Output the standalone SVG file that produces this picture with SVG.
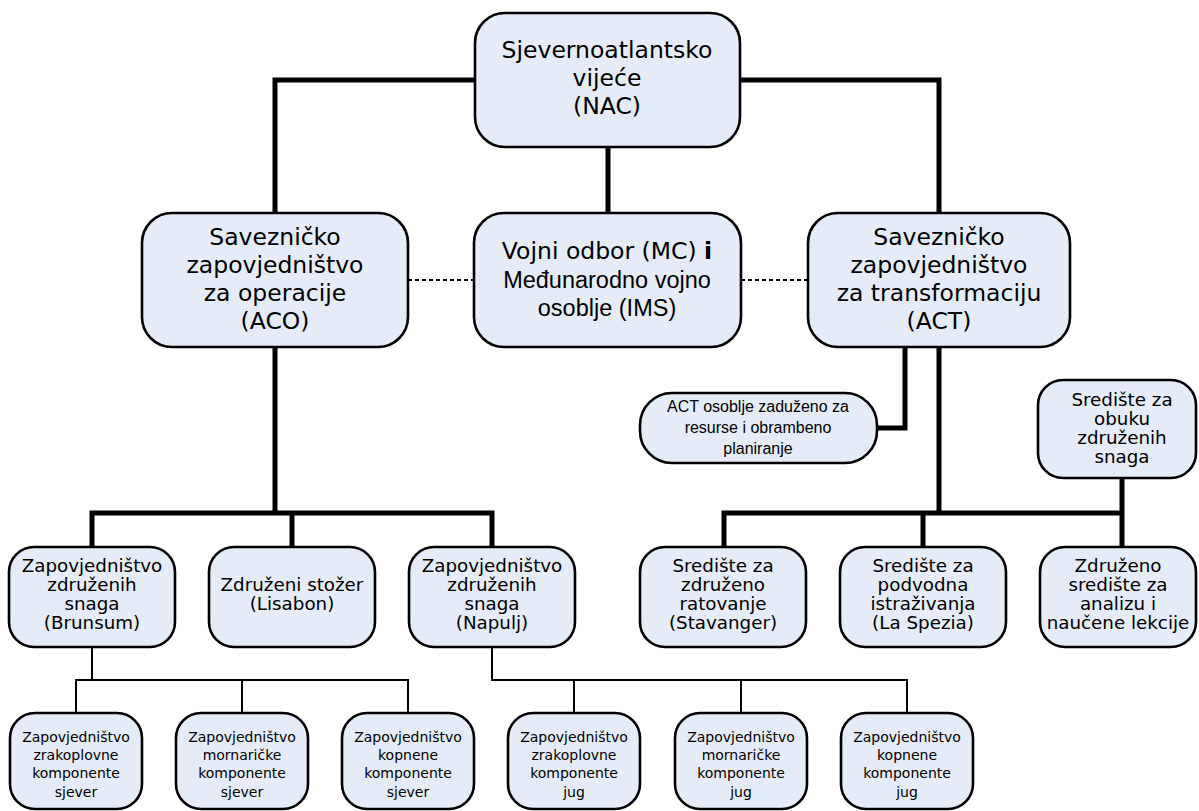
<svg xmlns="http://www.w3.org/2000/svg" width="1199" height="811" viewBox="0 0 1199 811">
<style>
.box{fill:#e6ecf7;stroke:#000;stroke-width:2.6}
.thick{fill:none;stroke:#000;stroke-width:5;stroke-linejoin:miter}
.thin{fill:none;stroke:#000;stroke-width:2}
.dash{fill:none;stroke:#000;stroke-width:2;stroke-dasharray:4 3}
text{font-family:"DejaVu Sans",Verdana,sans-serif;text-anchor:middle;fill:#000}
.t1{font-size:23.5px}
.t2{font-size:18.3px}
.t3{font-size:14px}
.a{font-family:"Liberation Sans",Arial,sans-serif}
.s{font-size:16px}
</style>
<rect width="1199" height="811" fill="#fff"/>
<g id="connectors">
<path class="thick" d="M475 80H275V213M740 80H939V213M608 147V213"/>
<path class="dash" d="M408 280H474M741 280H808"/>
<path class="thick" d="M275 347V513M92 547V513H492V547M292 513V547"/>
<path class="thick" d="M939 347V513M724 547V513H1122M923 513V547M1122 478V547"/>
<path class="thick" d="M905 347V428H877"/>
<path class="thin" d="M92 647V680M76 713V680H408V713M242 680V713"/>
<path class="thin" d="M492 647V680H907V713M574 680V713M741 680V713"/>
</g>
<g id="nac"><rect class="box" x="475" y="13" width="265" height="134" rx="30"/>
<text class="t1" x="607" y="58">Sjevernoatlantsko</text><text class="t1" x="607" y="86">vijeće</text><text class="t1" x="607" y="114">(NAC)</text></g>
<g id="aco"><rect class="box" x="142" y="213" width="266" height="134" rx="30"/>
<text class="t1" x="275" y="245">Savezničko</text><text class="t1" x="275" y="273">zapovjedništvo</text><text class="t1" x="275" y="301">za operacije</text><text class="t1" x="275" y="329">(ACO)</text></g>
<g id="mc"><rect class="box" x="474" y="213" width="267" height="134" rx="30"/>
<text class="t1" x="607" y="259">Vojni odbor (MC) <tspan font-weight="bold">i</tspan></text><text class="t1 a" x="607" y="288">Međunarodno vojno</text><text class="t1 a" x="607" y="316">osoblje (IMS)</text></g>
<g id="act"><rect class="box" x="808" y="213" width="262" height="134" rx="30"/>
<text class="t1" x="939" y="245">Savezničko</text><text class="t1" x="939" y="273">zapovjedništvo</text><text class="t1" x="939" y="301">za transformaciju</text><text class="t1" x="939" y="329">(ACT)</text></g>
<g id="act-staff"><rect class="box" x="640" y="393" width="237" height="70" rx="32"/>
<text class="a s" x="758" y="412">ACT osoblje zaduženo za</text><text class="a s" x="758" y="433">resurse i obrambeno</text><text class="a s" x="758" y="454">planiranje</text></g>
<g id="obuka"><rect class="box" x="1038" y="380" width="158" height="98" rx="25"/>
<text class="t2" x="1122" y="406">Središte za</text><text class="t2" x="1122" y="425">obuku</text><text class="t2" x="1122" y="444">združenih</text><text class="t2" x="1122" y="463">snaga</text></g>
<g id="brunsum"><rect class="box" x="9" y="547" width="166" height="100" rx="25"/>
<text class="t2" x="92" y="572">Zapovjedništvo</text><text class="t2" x="92" y="591">združenih</text><text class="t2" x="92" y="610">snaga</text><text class="t2" x="92" y="629">(Brunsum)</text></g>
<g id="lisabon"><rect class="box" x="209" y="547" width="166" height="100" rx="25"/>
<text class="t2" x="292" y="591">Združeni stožer</text><text class="t2" x="292" y="610">(Lisabon)</text></g>
<g id="napulj"><rect class="box" x="409" y="547" width="166" height="100" rx="25"/>
<text class="t2" x="492" y="572">Zapovjedništvo</text><text class="t2" x="492" y="591">združenih</text><text class="t2" x="492" y="610">snaga</text><text class="t2" x="492" y="629">(Napulj)</text></g>
<g id="stavanger"><rect class="box" x="640" y="547" width="166" height="100" rx="25"/>
<text class="t2" x="723" y="572">Središte za</text><text class="t2" x="723" y="591">združeno</text><text class="t2" x="723" y="610">ratovanje</text><text class="t2" x="723" y="629">(Stavanger)</text></g>
<g id="spezia"><rect class="box" x="840" y="547" width="166" height="100" rx="25"/>
<text class="t2" x="923" y="572">Središte za</text><text class="t2" x="923" y="591">podvodna</text><text class="t2" x="923" y="610">istraživanja</text><text class="t2" x="923" y="629">(La Spezia)</text></g>
<g id="analiza"><rect class="box" x="1040" y="547" width="156" height="100" rx="25"/>
<text class="t2" x="1118" y="572">Združeno</text><text class="t2" x="1118" y="591">središte za</text><text class="t2" x="1118" y="610">analizu i</text><text class="t2" x="1118" y="629">naučene lekcije</text></g>
<g id="air-n"><rect class="box" x="10" y="713" width="132" height="96" rx="25"/>
<text class="t3" x="76" y="742">Zapovjedništvo</text><text class="t3" x="76" y="760">zrakoplovne</text><text class="t3" x="76" y="778">komponente</text><text class="t3" x="76" y="797">sjever</text></g>
<g id="navy-n"><rect class="box" x="176" y="713" width="132" height="96" rx="25"/>
<text class="t3" x="242" y="742">Zapovjedništvo</text><text class="t3" x="242" y="760">mornaričke</text><text class="t3" x="242" y="778">komponente</text><text class="t3" x="242" y="797">sjever</text></g>
<g id="land-n"><rect class="box" x="342" y="713" width="132" height="96" rx="25"/>
<text class="t3" x="408" y="742">Zapovjedništvo</text><text class="t3" x="408" y="760">kopnene</text><text class="t3" x="408" y="778">komponente</text><text class="t3" x="408" y="797">sjever</text></g>
<g id="air-s"><rect class="box" x="508" y="713" width="132" height="96" rx="25"/>
<text class="t3" x="574" y="742">Zapovjedništvo</text><text class="t3" x="574" y="760">zrakoplovne</text><text class="t3" x="574" y="778">komponente</text><text class="t3" x="574" y="797">jug</text></g>
<g id="navy-s"><rect class="box" x="675" y="713" width="132" height="96" rx="25"/>
<text class="t3" x="741" y="742">Zapovjedništvo</text><text class="t3" x="741" y="760">mornaričke</text><text class="t3" x="741" y="778">komponente</text><text class="t3" x="741" y="797">jug</text></g>
<g id="land-s"><rect class="box" x="841" y="713" width="132" height="96" rx="25"/>
<text class="t3" x="907" y="742">Zapovjedništvo</text><text class="t3" x="907" y="760">kopnene</text><text class="t3" x="907" y="778">komponente</text><text class="t3" x="907" y="797">jug</text></g>
</svg>
